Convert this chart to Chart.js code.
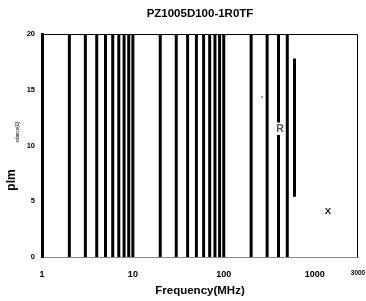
<!DOCTYPE html>
<html>
<head>
<meta charset="utf-8">
<script src="https://cdn.jsdelivr.net/npm/chart.js@4.4.1/dist/chart.umd.min.js"></script>
<style>
html,body{margin:0;padding:0;background:#fff;}
#wrap{width:366px;height:301px;position:relative;}
</style>
</head>
<body>
<div id="wrap"><canvas id="c" width="366" height="301"></canvas></div>
<script>
// Data
const fullLineFreqs = [2,3,4,5,6,7,8,9,10,20,30,40,50,60,70,80,90,100,200,300,400,500];
const partialLineFreq = 600;
const partialLineRange = [5.4, 17.8];
const xTickValues = [1,10,100,1000,3000];
const yTickValues = [0,5,10,15,20];
const markerLabels = ['z','R','X'];
const markerFreqs = [264,416,1400];
const markerVals = [14.35,11.5,4.1];

const datasets = fullLineFreqs.map(f => ({
  data: [{x:f,y:0},{x:f,y:20}],
  borderColor:'#000', borderWidth:3, pointRadius:0, showLine:true, borderCapStyle:'butt'
}));
datasets.push({
  data:[{x:partialLineFreq,y:partialLineRange[0]},{x:partialLineFreq,y:partialLineRange[1]}],
  borderColor:'#000', borderWidth:3, pointRadius:0, showLine:true, borderCapStyle:'butt'
});

const FONT = '"Liberation Sans", Arial, sans-serif';
const extras = {
  id:'extras',
  afterDatasetsDraw(chart){
    const {ctx, chartArea:a, scales:{x,y}} = chart;
    ctx.save();
    // frame top/right
    ctx.strokeStyle='#000'; ctx.lineWidth=1;
    ctx.beginPath();
    ctx.moveTo(a.left, a.top+0.5); ctx.lineTo(a.right-0.5, a.top+0.5); ctx.lineTo(a.right-0.5, a.bottom);
    ctx.stroke();
    // chart title
    ctx.fillStyle='#000';
    ctx.textAlign='center'; ctx.textBaseline='middle';
    ctx.font='bold 11.5px '+FONT;
    ctx.fillText('PZ1005D100-1R0TF', (a.left+a.right)/2, 14);
    // in-plot letters
    const sizes=[4,10.5,9.5];
    const cols=['#333','#555','#111'];
    markerLabels.forEach((t,i)=>{
      ctx.font='bold '+sizes[i]+'px '+FONT;
      const px = x.getPixelForValue(markerFreqs[i]), py = y.getPixelForValue(markerVals[i]);
      const w = ctx.measureText(t).width;
      ctx.fillStyle='#fff';
      ctx.fillRect(px-w/2-0.5, py-sizes[i]/2-1, w+1, sizes[i]+2);
      ctx.fillStyle=cols[i];
      ctx.fillText(t, px, py);
    });
    // y titles
    ctx.fillStyle='#000';
    ctx.save();
    ctx.translate(12, 180); ctx.rotate(-Math.PI/2);
    ctx.font='bold 12px '+FONT;
    ctx.fillText('plm',0,0);
    ctx.restore();
    ctx.save();
    ctx.translate(18, 132); ctx.rotate(-Math.PI/2);
    ctx.font='4.5px '+FONT;
    ctx.fillText('edance(Ω)',0,0);
    ctx.restore();
    ctx.restore();
  }
};

new Chart(document.getElementById('c'), {
  type:'scatter',
  data:{datasets},
  options:{
    responsive:false, animation:false, devicePixelRatio:1,
    layout:{padding:{left:0,right:8,top:34,bottom:0}},
    plugins:{
      legend:{display:false}, tooltip:{enabled:false}, title:{display:false}
    },
    scales:{
      x:{type:'logarithmic', min:1, max:3000,
        afterBuildTicks(s){ s.ticks = xTickValues.map(v=>({value:v})); },
        afterFit(s){ s.height = 44; s.paddingLeft = 0; s.paddingRight = 0; },
        grid:{display:false, drawTicks:false},
        border:{display:true, color:'#888', width:1},
        ticks:{color:'#000', padding:12, maxRotation:0, autoSkip:false,
          callback:(v)=>String(v),
          font:(c)=>({family:FONT, size:(c.tick && c.tick.value===3000)?6.5:9, weight:'bold'})},
        title:{display:true, text:'Frequency(MHz)', color:'#000', padding:{top:0,bottom:3},
          font:{family:FONT, size:11.5, weight:'bold'}}
      },
      y:{min:0, max:20,
        afterBuildTicks(s){ s.ticks = yTickValues.map(v=>({value:v})); },
        afterFit(s){ s.width = 42; },
        grid:{display:false, drawTicks:false},
        border:{display:true, color:'#000', width:3},
        ticks:{color:'#000', padding:7,
          font:{family:FONT, size:7.5, weight:'bold'}}
      }
    }
  },
  plugins:[extras]
});
</script>
</body>
</html>
